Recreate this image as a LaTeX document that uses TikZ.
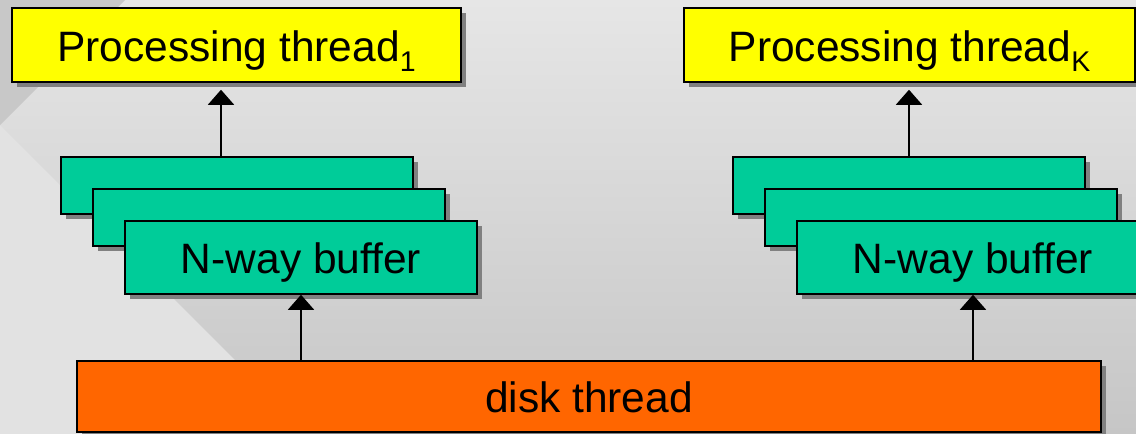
\documentclass[tikz,border=0pt]{standalone}
\usepackage{fontspec}
\setmainfont{Liberation Sans}
\usetikzlibrary{shadows,arrows.meta}
\definecolor{procyellow}{HTML}{FFFF00}
\definecolor{buffgreen}{HTML}{00CC99}
\definecolor{diskorange}{HTML}{FF6600}
\definecolor{shadowgray}{HTML}{808080}
\definecolor{bgtop}{HTML}{E6E6E6}
\definecolor{bgbottom}{HTML}{C6C6C6}
\definecolor{bgdark}{HTML}{C8C8C8}
\definecolor{bglight}{HTML}{E2E2E2}
\begin{document}
\begin{tikzpicture}[x=1pt,y=-1pt,
  box/.style={draw=black, line width=1.5pt, rectangle, inner sep=0pt,
    text height=32.5pt, text depth=0pt, font=\fontsize{42.5}{50}\selectfont,
    general shadow={fill=shadowgray, shadow xshift=5pt, shadow yshift=-5pt}},
  procbox/.style={box, fill=procyellow, minimum height=74pt},
  bufbox/.style={box, fill=buffgreen, minimum width=352pt},
  diskbox/.style={box, fill=diskorange, minimum width=1024pt, minimum height=71pt},
  arr/.style={line width=1.5pt, -{Triangle[width=26pt,length=15pt]}}
]
\useasboundingbox (0,0) rectangle (1136,434);
% background
\fill[top color=bgtop, bottom color=bgbottom] (0,0) rectangle (1136,434);
\fill[bgdark] (0,0) -- (125,0) -- (0,125) -- cycle;
\fill[bglight] (0,125) -- (309,434) -- (0,434) -- cycle;

% processing threads
\node[procbox, minimum width=449pt] (p1) at (236.5,45)
  {Processing thread\raisebox{-10pt}{\fontsize{28.5}{30}\selectfont 1}};
\node[procbox, minimum width=451pt] (pK) at (909.5,45)
  {Processing thread\raisebox{-10pt}{\fontsize{28.5}{30}\selectfont K}};

% left buffer stack
\node[bufbox, minimum height=57pt] (bufA) at (237,185.5) {};
\node[bufbox, minimum height=57pt] (bufB) at (269,217.5) {};
\node[bufbox, minimum height=73pt] (bufC) at (301,257.5) {N-way buffer};

% right buffer stack
\node[bufbox, minimum height=57pt] (bufKA) at (909,185.5) {};
\node[bufbox, minimum height=57pt] (bufKB) at (941,217.5) {};
\node[bufbox, minimum height=73pt] (bufKC) at (973,257.5) {N-way buffer};

% disk thread
\node[diskbox] (disk) at (589,396.5) {disk thread};

% connectors
\draw[arr, shorten >=7pt] ([xshift=-16pt]bufA.north) -- ([xshift=-16pt]p1.south -| bufA.north);
\draw[arr, shorten >=7pt] (bufKA.north) -- (pK.south -| bufKA.north);
\draw[arr] (disk.north -| bufC.south) -- (bufC.south);
\draw[arr] (disk.north -| bufKC.south) -- (bufKC.south);
\end{tikzpicture}
\end{document}
